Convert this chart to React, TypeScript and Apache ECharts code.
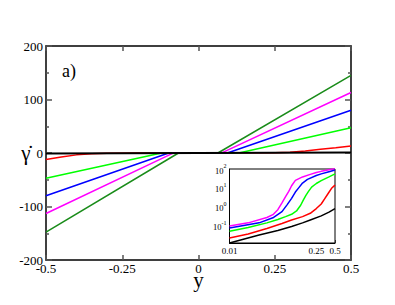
import React, { useEffect, useRef } from "react";
import * as echarts from "echarts";

// ---- main panel: shear rate vs y (pairs [y, gammaDot]) ----
const xTicks = [-0.5, -0.25, 0, 0.25, 0.5];
const yTicks = [-200, -100, 0, 100, 200];

const mainDarkGreen = [[-0.5, -148], [-0.067, -0.5], [0.065, 0.5], [0.5, 145]];
const mainMagenta = [[-0.5, -113], [-0.085, -0.6], [0.078, 0.6], [0.5, 113]];
const mainBlue = [[-0.5, -80], [-0.1, -0.5], [0.097, 0.5], [0.5, 80]];
const mainGreen = [[-0.5, -47], [-0.125, -0.5], [0.136, 0.5], [0.5, 47]];
const mainRed = [
  [-0.5, -12], [-0.45, -7.5], [-0.4, -3.5], [-0.35, -1.2], [-0.3, -0.5], [-0.2, -0.2],
  [0.2, 0.3], [0.25, 0.6], [0.3, 1.5], [0.35, 3.8], [0.4, 6.8], [0.45, 9.8], [0.5, 13],
];
const mainBlack = [[-0.5, -0.8], [0.5, 0.8]];

// ---- inset: |gammaDot| vs y, log-log ----
const insetXLabels = [0.01, 0.25, 0.5];
const insetYLabels = [0.1, 1, 10, 100];

const insetBlack = [[0.01, 0.012], [0.03, 0.032], [0.06, 0.055], [0.1, 0.09], [0.15, 0.14], [0.2, 0.2], [0.3, 0.33], [0.4, 0.52], [0.5, 0.8]];
const insetRed = [[0.01, 0.022], [0.02, 0.036], [0.04, 0.07], [0.07, 0.13], [0.1, 0.2], [0.15, 0.3], [0.2, 0.45], [0.25, 0.8], [0.3, 1.4], [0.34, 2.6], [0.39, 5.2], [0.44, 9.5], [0.5, 14]];
const insetGreen = [[0.01, 0.05], [0.02, 0.08], [0.04, 0.14], [0.06, 0.21], [0.08, 0.3], [0.1, 0.4], [0.12, 0.6], [0.14, 1.2], [0.155, 2.3], [0.17, 4], [0.186, 6.3], [0.21, 11], [0.25, 17], [0.3, 24], [0.4, 38], [0.5, 55]];
const insetBlue = [[0.01, 0.075], [0.03, 0.14], [0.05, 0.26], [0.07, 0.55], [0.085, 1.3], [0.1, 2.8], [0.115, 6], [0.13, 10], [0.15, 18], [0.18, 28], [0.25, 45], [0.3, 55], [0.4, 72], [0.5, 88]];
const insetMagenta = [[0.01, 0.095], [0.02, 0.14], [0.04, 0.27], [0.05, 0.38], [0.06, 0.7], [0.07, 1.6], [0.08, 3.4], [0.09, 6.5], [0.1, 13], [0.115, 25], [0.15, 38], [0.2, 52], [0.25, 65], [0.3, 75], [0.4, 92], [0.5, 108]];

const RED = "#ff0000";
const GREEN = "#00ff00";
const BLUE = "#0000ff";
const MAGENTA = "#ff00ff";
const DKGREEN = "#1a8c1a";
const BLACK = "#000000";
const FONT = "'Liberation Serif', 'Times New Roman', 'DejaVu Serif', serif";

export default function App() {
  const ref = useRef<HTMLDivElement>(null);
  useEffect(() => {
    const chart = echarts.init(ref.current!, null, { renderer: "svg" });
    const axisLine = { show: true, onZero: false, lineStyle: { color: "#000", width: 1.5 } };
    const tickStyle = { color: "#555", width: 1.5 };
    const line = (data: number[][], color: string, xi: number, yi: number, w = 1.5) => ({
      type: "line",
      data,
      xAxisIndex: xi,
      yAxisIndex: yi,
      showSymbol: false,
      symbol: "none",
      lineStyle: { color, width: w },
      z: 3,
    });
    const supFmt = (v: number) => {
      const e = Math.round(Math.log10(v));
      return `{b|10}{s|${e}}`;
    };
    chart.setOption({
      animation: false,
      textStyle: { fontFamily: FONT },
      grid: [
        { left: 46, top: 46, width: 305, height: 214, show: false },
        { left: 229.5, top: 169, width: 105.5, height: 74, show: true, backgroundColor: "#fff", borderColor: "#000", borderWidth: 1, z: 5 },
      ],
      xAxis: [
        {
          type: "value", gridIndex: 0, min: xTicks[0], max: xTicks[xTicks.length - 1], interval: 0.25,
          axisLine, splitLine: { show: false },
          axisTick: { inside: true, length: 5, lineStyle: tickStyle },
          axisLabel: { fontFamily: FONT, fontSize: 13, color: "#000", margin: 2, formatter: (v: number) => String(v) },
          name: "y", nameLocation: "middle", nameGap: 9, nameMoveOverlap: false,
          nameTextStyle: { fontFamily: FONT, fontSize: 21, color: "#000", verticalAlign: "top" },
        },
        {
          type: "value", gridIndex: 0, position: "top", min: -0.5, max: 0.5, interval: 0.25,
          axisLine, splitLine: { show: false }, axisLabel: { show: false },
          axisTick: { inside: true, length: 5, lineStyle: tickStyle },
        },
        {
          type: "log", gridIndex: 1, min: 0.01, max: 0.5, logBase: 10,
          axisLine: { show: true, onZero: false, lineStyle: { color: "#000", width: 1 } }, splitLine: { show: false },
          axisTick: { inside: true, length: 3, customValues: insetXLabels, lineStyle: { color: "#555" } },
          axisLabel: { fontFamily: FONT, fontSize: 9, color: "#000", margin: 3, customValues: insetXLabels, formatter: (v: number) => String(v) },
        },
      ],
      yAxis: [
        {
          type: "value", gridIndex: 0, min: yTicks[0], max: yTicks[yTicks.length - 1], interval: 100,
          axisLine, splitLine: { show: false },
          axisTick: { inside: true, length: 6, lineStyle: tickStyle },
          minorTick: { show: true, splitNumber: 2, length: 3, lineStyle: tickStyle },
          axisLabel: { fontFamily: FONT, fontSize: 13, color: "#000", margin: 3 },
          name: "\u03B3\u0307", nameLocation: "middle", nameRotate: 0, nameGap: 20, nameMoveOverlap: false,
          nameTextStyle: { fontFamily: FONT, fontSize: 21, color: "#000", align: "center", verticalAlign: "middle", padding: [0, 0, 3, 0] },
        },
        {
          type: "value", gridIndex: 0, position: "right", min: -200, max: 200, interval: 100,
          axisLine, splitLine: { show: false }, axisLabel: { show: false },
          axisTick: { inside: true, length: 6, lineStyle: tickStyle },
          minorTick: { show: true, splitNumber: 2, length: 3, lineStyle: tickStyle },
        },
        {
          type: "log", gridIndex: 1, min: 0.012, max: 100, logBase: 10,
          axisLine: { show: true, onZero: false, lineStyle: { color: "#000", width: 1 } }, splitLine: { show: false },
          axisTick: { inside: true, length: 3, customValues: insetYLabels, lineStyle: { color: "#555" } },
          axisLabel: {
            fontFamily: FONT, color: "#000", margin: 3, customValues: insetYLabels, formatter: supFmt,
            rich: {
              b: { fontFamily: FONT, fontSize: 8.5, color: "#000", verticalAlign: "bottom", lineHeight: 12 },
              s: { fontFamily: FONT, fontSize: 6, color: "#000", verticalAlign: "top", lineHeight: 12, padding: [0, 0, 6, 0] },
            },
          },
        },
      ],
      graphic: [
        { type: "text", left: 62, top: 62, style: { text: "a)", fontFamily: FONT, fontSize: 18, fill: "#000" }, z: 10 },
      ],
      series: [
        line(mainRed, RED, 0, 0),
        line(mainGreen, GREEN, 0, 0),
        line(mainBlue, BLUE, 0, 0),
        line(mainMagenta, MAGENTA, 0, 0),
        line(mainDarkGreen, DKGREEN, 0, 0),
        line(mainBlack, BLACK, 0, 0, 2),
        { ...line(insetBlack, BLACK, 2, 2, 1.5), z: 6 },
        { ...line(insetRed, RED, 2, 2, 1.5), z: 6 },
        { ...line(insetGreen, GREEN, 2, 2, 1.5), z: 6 },
        { ...line(insetBlue, BLUE, 2, 2, 1.5), z: 6 },
        { ...line(insetMagenta, MAGENTA, 2, 2, 1.5), z: 6 },
      ],
    });
    return () => chart.dispose();
  }, []);
  return <div ref={ref} style={{ position: "fixed", left: 0, top: 0, width: 395, height: 305, background: "#fff" }} />;
}
